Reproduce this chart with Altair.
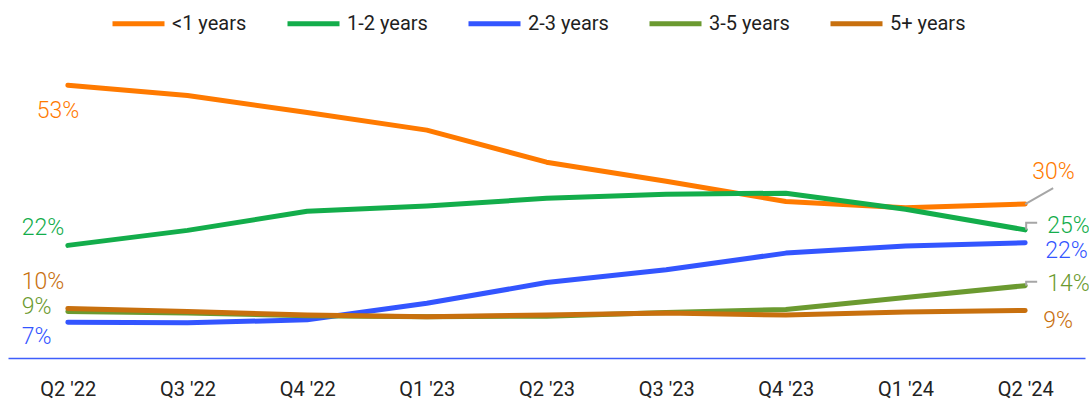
import altair as alt
import pandas as pd

# Quarterly share of postings by tenure bucket (%)
quarters = ["Q2 '22", "Q3 '22", "Q4 '22", "Q1 '23", "Q2 '23",
            "Q3 '23", "Q4 '23", "Q1 '24", "Q2 '24"]
series_names = ["<1 years", "1-2 years", "2-3 years", "3-5 years", "5+ years"]
under_1 = [52.8, 50.8, 47.5, 44.1, 37.9, 34.2, 30.3, 29.1, 29.8]
one_two = [21.8, 24.7, 28.4, 29.4, 30.9, 31.7, 31.9, 28.8, 24.8]
two_three = [6.9, 6.8, 7.4, 10.6, 14.6, 17.1, 20.3, 21.7, 22.3]
three_five = [9.0, 8.7, 8.2, 8.0, 8.1, 8.8, 9.4, 11.7, 14.0]
five_plus = [9.6, 9.0, 8.3, 8.0, 8.3, 8.7, 8.3, 8.9, 9.2]
colors = ["#FF7A00", "#13AD4B", "#3355FF", "#6B9A30", "#C8700E"]

FONT = "Roboto"
W, H = 1077, 310
Y_MAX = 60
PX_Q = W / len(quarters)   # pixels per quarter step
PX_V = H / Y_MAX           # pixels per percentage point

values = [under_1, one_two, two_three, three_five, five_plus]
rows = []
for name, vals in zip(series_names, values):
    for i, v in enumerate(vals):
        rows.append({"series": name, "idx": i, "value": v})
df = pd.DataFrame(rows)

label_expr = "[" + ",".join('"%s"' % q for q in quarters) + "][datum.value]"

x_enc = alt.X(
    "idx:Q",
    scale=alt.Scale(domain=[-0.5, len(quarters) - 0.5], nice=False, zero=False),
    axis=alt.Axis(
        values=list(range(len(quarters))),
        labelExpr=label_expr,
        title=None,
        ticks=False,
        grid=False,
        domainColor="#3F5EFB",
        domainWidth=1.5,
        labelFont=FONT,
        labelFontSize=20,
        labelColor="#222222",
        labelPadding=21,
    ),
)
y_enc = alt.Y("value:Q", scale=alt.Scale(domain=[0, Y_MAX], nice=False), axis=None)
color_scale = alt.Scale(domain=series_names, range=colors)

lines = alt.Chart(df).mark_line(
    strokeWidth=5, strokeCap="round", strokeJoin="round"
).encode(
    x=x_enc,
    y=y_enc,
    color=alt.Color(
        "series:N",
        scale=color_scale,
        sort=series_names,
        legend=alt.Legend(
            orient="none",
            direction="horizontal",
            legendX=102,
            legendY=-53,
            title=None,
            symbolType="stroke",
            symbolSize=2704,
            symbolStrokeWidth=5,
            labelFont=FONT,
            labelFontSize=20,
            labelColor="#1f1f1f",
            labelOffset=5,
            columnPadding=30,
            padding=0,
        ),
    ),
    detail="series:N",
)

# End-point value labels: (dx, dy) offsets per series
left_offsets = {
    "<1 years": (-31, 26),
    "1-2 years": (-46, -17),
    "2-3 years": (-46, 15),
    "3-5 years": (-46, -4.5),
    "5+ years": (-46, -26),
}
right_offsets = {
    "<1 years": (7, -32),
    "1-2 years": (22, -4),
    "2-3 years": (20, 8),
    "3-5 years": (22, -2),
    "5+ years": (18, 11),
}

layers = [lines]
last = len(quarters) - 1
for name, col in zip(series_names, colors):
    for pos, offs in ((0, left_offsets), (last, right_offsets)):
        dx, dy = offs[name]
        sub = df[(df.series == name) & (df.idx == pos)]
        txt = alt.Chart(sub).transform_calculate(
            label="format(datum.value, '.0f') + '%'"
        ).mark_text(
            align="left", baseline="middle", dx=dx, dy=dy,
            font=FONT, fontSize=23, fontWeight=300, color=col,
        ).encode(
            x=alt.X("idx:Q"), y=alt.Y("value:Q"), text="label:N"
        )
        layers.append(txt)

# Gray leader lines from the last points to their labels (pixel offsets)
leader_paths = {
    "<1 years": [(0, 0), (28, -16)],
    "1-2 years": [(1, 0), (1, -7), (12, -7)],
    "3-5 years": [(1, 0), (1, -4), (12, -4)],
}
lrows = []
for name, path in leader_paths.items():
    v = values[series_names.index(name)][last]
    for k, (px, py) in enumerate(path):
        lrows.append({"series": name, "order": k,
                      "idx": last + px / PX_Q, "value": v - py / PX_V})
leaders = alt.Chart(pd.DataFrame(lrows)).mark_line(
    color="#A6A6A6", strokeWidth=2
).encode(
    x=alt.X("idx:Q"), y=alt.Y("value:Q"),
    detail="series:N", order="order:Q",
)
layers.append(leaders)

chart = alt.layer(*layers).properties(
    width=W,
    height=H,
    autosize=alt.AutoSizeParams(type="none"),
    padding={"left": 8, "top": 48, "right": 4, "bottom": 46},
    background="white",
).configure_view(stroke=None)

chart.save("out.html", embed_options={"renderer": "svg", "actions": False})
